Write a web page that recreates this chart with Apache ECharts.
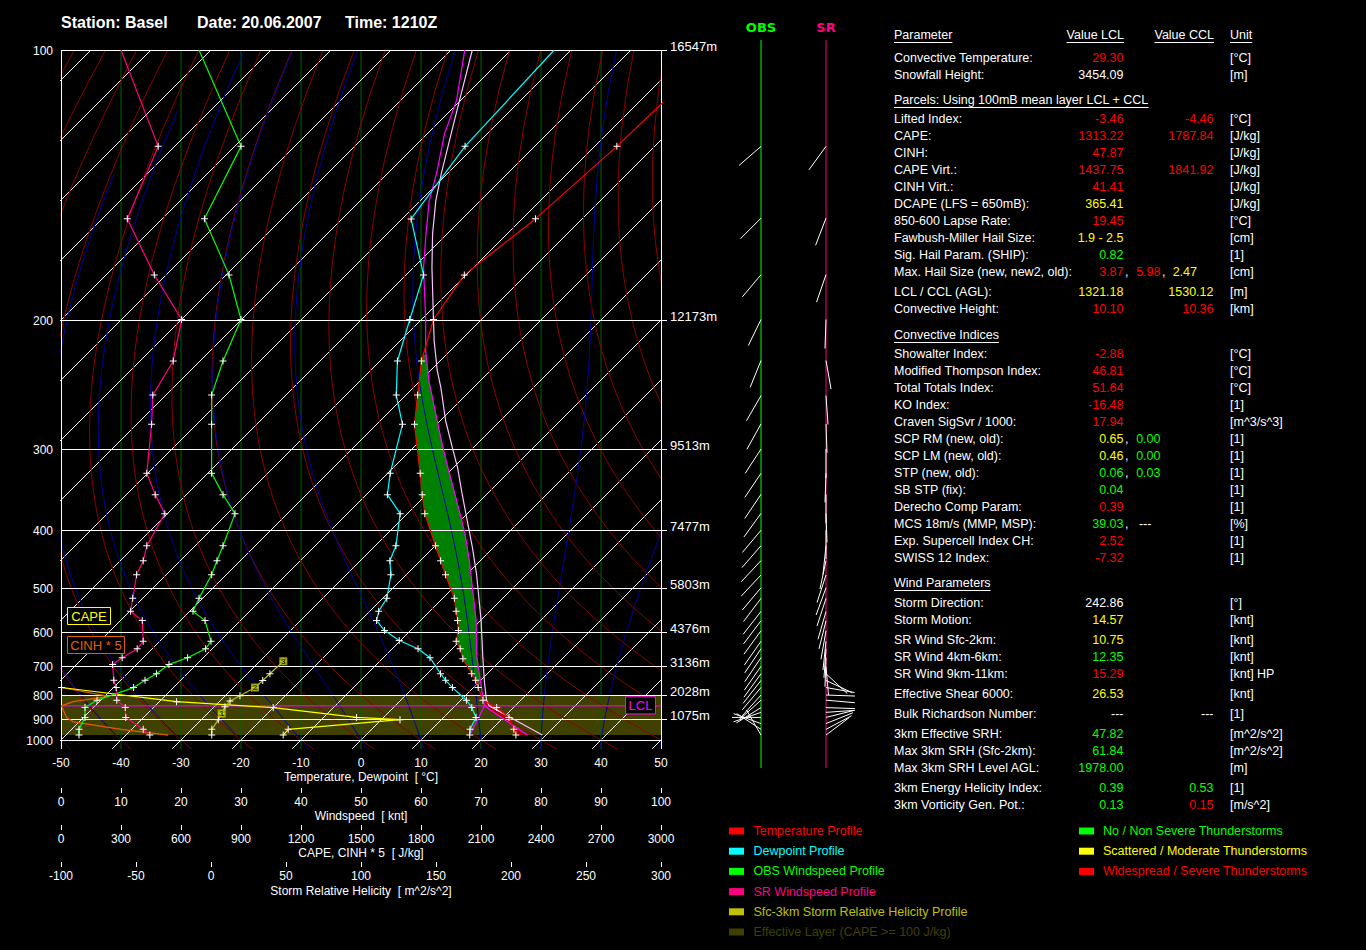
<!DOCTYPE html>
<html><head><meta charset="utf-8">
<script src="https://cdn.jsdelivr.net/npm/echarts@6/dist/echarts.min.js"></script>
<style>html,body{margin:0;padding:0;background:#000;}#c{width:1366px;height:950px;}</style>
</head><body><div id="c"></div>
<script>
// ---------------- data ----------------
const P_LEVELS = [100,200,300,400,500,600,700,800,900,1000];
const HEIGHT_LABELS = ['16547m','12173m','9513m','7477m','5803m','4376m','3136m','2028m','1075m'];

const tempP = [100,125.7,151.2,176.1,200,226.3,251.6,276.4,325.8,351.3,376.2,424.1,449.3,474.7,522,550.7,572.7,597.6,625.8,647,676.3,723.9,746.6,772.4,820.3,849.6,892,947.1,975];
const tempT = [-55.5,-56.3,-57.8,-60.3,-58,-53.1,-48.05,-43.7,-34.6,-30.7,-27.1,-19.95,-16.6,-13.45,-8.05,-5.6,-3.8,-2.0,-0.6,1.33,3.43,7.4,9.17,10.8,13.7,17.2,20.9,23.7,25.0];

const dewP = [100,125.7,151.3,176.1,200,226.3,251.6,276.4,325.8,351.3,376.2,424.1,449.3,474.7,522,550.7,572.7,597.6,624,647,673.4,723.9,746.6,772.4,820.3,849.6,892,947.1,975];
const dewT = [-82.8,-81.6,-78.5,-67.1,-61.95,-57.1,-51.6,-45.7,-39.6,-36.5,-31.2,-26.55,-25.05,-22.55,-19.3,-18.5,-17.3,-14.3,-10.2,-5.7,-2.2,2.2,4.17,6.5,10.95,13.05,15.4,16.4,17.3];

const parcelP = [975,843,794.5,746.6,671.6,572.7,500,449.3,405.9,372.5,346.7,316,288.8,259.1,240.7,219.6,200,172.6,157.5,144.3,134.6,121.9,112.4,100];
const parcelT = [26.9,14.9,12.5,9.95,5.5,-0.7,-6.8,-11.8,-16.95,-21.8,-26,-31.6,-37.1,-43.8,-48.5,-54.05,-59.3,-68.3,-73.5,-78.5,-81.8,-87.1,-90.7,-97.7];

const vParcelP = [975,843,820.3,758.1,671.6,572.7,473.3,427,386.4,350.8,319.6,298.6,273.4,245.8,233.3,213.1,200,172.6,157.5,144.3,134.6,121.9,112.4,100];
const vParcelT = [29.4,15.7,14.3,11.2,6.5,0.12,-8.4,-13.5,-18.8,-24.1,-29.3,-33.5,-39.05,-45.4,-48.8,-54.3,-58.0,-66.9,-72.4,-77.4,-81.0,-86.0,-90.2,-96.45];

const mixP = [975,843];
const mixT = [17.3,14.9];

const obsSpdP = [100,125.7,151.2,176.1,200,226.3,251.6,276.4,325.8,351.3,376.2,424.1,449.3,474.7,522,550.7,572.7,625.8,647,673.4,693.9,723.9,746.6,772.4,820.3,849.6,892,947.1,975];
const obsSpd  = [23,30,23.9,28,30,27,25.1,25.1,25.1,27,29,27,26,25.1,23,22,24,25,24.1,21.1,18,15.9,14,12.1,6,4,4,3,3];

const srSpdP = [100,125.7,151.2,176.1,200,226.3,251.6,276.4,325.8,351.3,376.2,424.1,449.3,474.7,522,550.7,572.7,625.8,647,673.4,693.9,746.6,772.4,820.3,849.6,892,947.1,975];
const srSpd  = [10,16.2,11.05,15.55,20.1,18.7,15.3,15.1,14.3,15.7,17.3,14.3,13.7,12.6,11.95,11.6,13.55,13.7,12.7,10.2,8.6,8.8,9.2,9.3,10.7,10.8,13.7,14.8];

const capeP = [975,947,902,892,850,826,772];
const capeV = [1111,1136,1695,1478,1061,578,3];

const cinP = [975,947,912,892,843,826,805,772];
const cinV = [536,302,61,28,3,61,240,0];

const srhP = [975,947,902,875,847,823,803,772,747,724,684];
const srhV = [0.5,0.5,4.9,7.1,9.3,12.7,19.3,29.3,34.5,39.3,48.2];
const srhBoxP = [875,772,684];
const srhBoxV = [7.1,29.3,48.2];
const srhBoxLabels = ['1','2','3'];

const windP  = [125.7,151,176,200,226,252,276,300,326,351,376,400,424,449,475,500,522,551,573,598,626,647,673,700,724,747,772,800,820,850,870,892,920,947,975];
const obsDir = [229,225,220,206,202,210,209,213,214,214,216,220,221,223,223,220,217,218,217,216,215,214,214,215,216,218,220,222,228,238,251,270,290,303,330];
const srDir  = [216,201,199,182,170,176,178,180,182,180,178,180,186,192,198,200,198,196,194,190,186,184,182,175,133,115,100,92,95,92,86,76,68,62,53];

const lclP = 843;
const effLayer = [975, 800];
const capeLayer = [222, 760];
const cinLayer = [843, 975];

// ---------------- scale helpers ----------------
const K = 0.355;
function yOf(p){ return 690*(Math.pow(p/1000,-K)-1)/(Math.pow(0.1,-K)-1); }
function sk(T,p){ const y=yOf(p); return [T+y/6, y]; }
function flat(v,p){ return [v, yOf(p)]; }
function mk(P,V,fn){ return P.map((p,i)=>{ const v=fn(V[i],p); return p<=100?{value:v,symbol:'none'}:v; }); }
function interpT(P,T,p){
  for(let i=0;i<P.length-1;i++){
    const a=P[i], b=P[i+1];
    if((p-a)*(p-b)<=0){ const f=(Math.log(p)-Math.log(a))/(Math.log(b)-Math.log(a)||1); return T[i]+f*(T[i+1]-T[i]); }
  }
  return T[0];
}

const FONT = "'Liberation Sans', Arial, sans-serif";
const PLUS = 'path://M0,3L7,3L7,4L0,4Z M3,0L4,0L4,7L3,7Z';

// ---------------- background thermodynamic lines ----------------
const series = [];
const samplesP = []; for(let p=1050;p>=100;p-=10) samplesP.push(p);

function bgLine(data,color,z){ series.push({type:'line',data,symbol:'none',silent:true,clip:true,lineStyle:{color,width:1},z,animation:false}); }

for(let T=-170;T<=50;T+=10) bgLine([sk(T,1047),sk(T,100)],'#ffffff',4);
for(let th=-70;th<=140;th+=10){
  bgLine(samplesP.map(p=>sk((th+273.15)*Math.pow(p/1000,0.2857)-273.15,p)),'#8b0000',4);
}
function dTdp(p,T){
  const Tc=T-273.15; const es=6.112*Math.exp(17.67*Tc/(Tc+243.5)); const rs=0.622*es/(p-es);
  return (287.04*T+2.501e6*rs)/(p*(1005.7+2.501e6*2.501e6*rs*0.622/(287.04*T*T)));
}
function moist(T0){
  const up=[]; let T=T0+273.15, p=1000; up.push([p,T]);
  while(p>100){ const dp=-5; const k1=dTdp(p,T); const k2=dTdp(p+dp/2,T+k1*dp/2); T+=k2*dp; p+=dp; up.push([p,T]); }
  const dn=[]; T=T0+273.15; p=1000;
  while(p<1050){ const dp=5; const k1=dTdp(p,T); const k2=dTdp(p+dp/2,T+k1*dp/2); T+=k2*dp; p+=dp; dn.unshift([p,T]); }
  return dn.concat(up).filter(a=>a[1]-273.15>-136).map(a=>sk(a[1]-273.15,a[0]));
}

// ---------------- series ----------------
series.push({type:'custom',z:1,silent:true,data:[[0,yOf(effLayer[0]),yOf(effLayer[1])]],renderItem:(params,api)=>{
  const cs=params.coordSys; const y1=api.coord([0,api.value(1)])[1], y2=api.coord([0,api.value(2)])[1];
  return {type:'rect',shape:{x:cs.x,y:Math.min(y1,y2),width:cs.width,height:Math.abs(y2-y1)},style:{fill:'#404000'}};
}});
series.push({type:'custom',z:2,silent:true,data:[-40,-30,-20,-10,0,10,20,30,40].map(v=>[v,0]),renderItem:(params,api)=>{
  const cs=params.coordSys; const x=api.coord([api.value(0),0])[0];
  return {type:'line',shape:{x1:x,y1:cs.y,x2:x,y2:cs.y+cs.height},style:{stroke:'#006400',lineWidth:1}};
}});
function fillPoly(envP,envT,parP,parT,pTop,pBot){
  const pts=[];
  pts.push(sk(interpT(parP,parT,pBot),pBot));
  parP.forEach((p,i)=>{ if(p<pBot&&p>pTop) pts.push(sk(parT[i],p)); });
  pts.push(sk(interpT(parP,parT,pTop),pTop));
  pts.push(sk(interpT(envP,envT,pTop),pTop));
  envP.forEach((p,i)=>{ if(p>pTop&&p<pBot) pts.push(sk(envT[i],p)); });
  pts.push(sk(interpT(envP,envT,pBot),pBot));
  return pts;
}
const capePoly = fillPoly(tempP,tempT,parcelP,parcelT,capeLayer[0],capeLayer[1]);
const cinPoly = fillPoly(tempP,tempT,parcelP,parcelT,cinLayer[0],cinLayer[1]);
[[capePoly,'#008000'],[cinPoly,'#a00000']].forEach(([poly,col])=>{
  series.push({type:'custom',z:5,silent:true,data:[[0,0]],renderItem:(params,api)=>({type:'polygon',shape:{points:poly.map(q=>api.coord(q))},style:{fill:col}})});
});
for(let tw=-50;tw<=60;tw+=10) bgLine(moist(tw),'#0000a0',6);

series.push({type:'custom',z:7,silent:true,clip:false,data:P_LEVELS.map(p=>[0,yOf(p)]),renderItem:(params,api)=>{
  const cs=params.coordSys; const i=params.dataIndex; const y=Math.round(api.coord([0,api.value(1)])[1])+0.5;
  const hasH=i<HEIGHT_LABELS.length;
  const ch=[{type:'line',shape:{x1:cs.x,y1:y,x2:cs.x+cs.width+(hasH?6:0),y2:y},style:{stroke:'#fff',lineWidth:1}},
    {type:'text',x:cs.x-8,y:y,style:{text:String(P_LEVELS[i]),fill:'#fff',font:'12px '+FONT,align:'right',verticalAlign:'middle'}}];
  if(hasH) ch.push({type:'text',x:cs.x+cs.width+9,y:y-4,style:{text:HEIGHT_LABELS[i],fill:'#fff',font:'13px '+FONT,align:'left',verticalAlign:'middle'}});
  if(i===0){
    const xl=Math.round(cs.x)+0.5, xr=Math.round(cs.x+cs.width)+0.5, yb=cs.y+cs.height;
    ch.push({type:'line',shape:{x1:xl,y1:cs.y,x2:xl,y2:yb},style:{stroke:'#fff',lineWidth:1}});
    ch.push({type:'line',shape:{x1:xr,y1:cs.y,x2:xr,y2:yb},style:{stroke:'#fff',lineWidth:1}});
  }
  return {type:'group',children:ch};
}});
series.push({type:'custom',z:8,silent:true,clip:false,data:[[0,yOf(lclP)]],renderItem:(params,api)=>{
  const cs=params.coordSys; const y=api.coord([0,api.value(1)])[1];
  const bx=cs.x+cs.width-35.5;
  return {type:'group',children:[
    {type:'line',shape:{x1:cs.x,y1:y,x2:cs.x+cs.width,y2:y},style:{stroke:'#ff00ff',lineWidth:1}},
    {type:'rect',shape:{x:bx,y:y-9,width:30,height:17},style:{fill:'#000',stroke:'#ff00ff',lineWidth:1}},
    {type:'text',x:bx+15,y:y,style:{text:'LCL',fill:'#ff00ff',font:'13px '+FONT,align:'center',verticalAlign:'middle'}}
  ]};
}});

function prof(data,color,opt){
  return Object.assign({type:'line',data,symbol:'none',silent:true,clip:true,animation:false,lineStyle:{color,width:1.2},itemStyle:{color:'#fff'},z:12},opt||{});
}
const withPlus = {symbol:PLUS,symbolSize:7,showAllSymbol:true};
series.push(prof(mk(cinP,cinV,flat),'#e06000',{xAxisIndex:2,z:10}));
series.push(prof(mk(capeP,capeV,flat),'#ffff00',Object.assign({xAxisIndex:2,z:10},withPlus)));
series.push(prof(mk(srhP,srhV,flat),'#c0c000',Object.assign({xAxisIndex:3,z:10},withPlus)));
series.push({type:'scatter',xAxisIndex:3,z:13,silent:true,symbol:'rect',symbolSize:8,itemStyle:{color:'#c0c000'},
  data:srhBoxP.map((p,i)=>[srhBoxV[i],yOf(p)]),
  label:{show:true,position:'inside',formatter:(pr)=>srhBoxLabels[pr.dataIndex],color:'#000',fontSize:8,fontWeight:'bold',fontFamily:FONT}});
series.push(prof(mk(obsSpdP,obsSpd,flat),'#00ff00',Object.assign({xAxisIndex:1},withPlus)));
series.push(prof(mk(srSpdP,srSpd,flat),'#ff0080',Object.assign({xAxisIndex:1},withPlus)));
series.push(prof(mk(vParcelP,vParcelT,sk),'#ffc0ff',{z:11}));
series.push(prof(mk(parcelP,parcelT,sk),'#ff00ff',{z:11}));
series.push(prof(mk(mixP,mixT,sk),'#ff00ff',{z:11}));
series.push(prof(mk(dewP,dewT,sk),'#00ffff',withPlus));
series.push(prof(mk(tempP,tempT,sk),'#ff0000',withPlus));

const OBS_X=61, SR_X=126, STICK=29;
series.push({type:'line',xAxisIndex:4,yAxisIndex:1,data:[[OBS_X,-28],[OBS_X,700]],symbol:'none',silent:true,lineStyle:{color:'#00ff00',width:1},z:3});
series.push({type:'line',xAxisIndex:4,yAxisIndex:1,data:[[SR_X,-28],[SR_X,700]],symbol:'none',silent:true,lineStyle:{color:'#ff0080',width:1},z:3});
[[OBS_X,obsDir],[SR_X,srDir]].forEach(([cx,dirs])=>{
  series.push({type:'custom',xAxisIndex:4,yAxisIndex:1,z:4,silent:true,clip:false,
    data:windP.map((p,i)=>[cx,yOf(p),dirs[i]]),
    renderItem:(params,api)=>{
      const pt=api.coord([api.value(0),api.value(1)]); const d=api.value(2)*Math.PI/180;
      return {type:'line',shape:{x1:pt[0],y1:pt[1],x2:pt[0]+STICK*Math.sin(d),y2:pt[1]-STICK*Math.cos(d)},style:{stroke:'#fff',lineWidth:1}};
    }});
});

// ---------------- graphic texts ----------------
const g=[];
const TF='12.5px '+FONT;
function txt(x,y,text,color,align,font,z){ g.push({type:'text',x,y,z:z||0,silent:true,style:{text,fill:color,font:font||TF,align:align||'left',verticalAlign:'middle'}}); }
function box(x,y,w,h,fill,stroke,z){ g.push({type:'rect',z:z||0,silent:true,shape:{x,y,width:w,height:h},style:{fill,stroke,lineWidth:1}}); }
const mctx=document.createElement('canvas').getContext('2d');
function underline(x,y,text,align){ mctx.font=TF; const w=mctx.measureText(text).width; const x1=align==='right'?x-w:x; g.push({type:'line',silent:true,shape:{x1,y1:y+7.5,x2:x1+w,y2:y+7.5},style:{stroke:'#fff',lineWidth:1}}); }

txt(61,22,'Station: Basel','#fff','left','bold 16px '+FONT);
txt(197,22,'Date: 20.06.2007','#fff','left','bold 16px '+FONT);
txt(345,22,'Time: 1210Z','#fff','left','bold 16px '+FONT);
txt(761,27,'OBS','#00ff00','center',"bold 13px 'DejaVu Sans', sans-serif");
txt(826,27,'SR','#ff0080','center',"bold 13px 'DejaVu Sans', sans-serif");

box(67.5,607.5,43,17,'#000','#ffff00',100); txt(89,616.5,'CAPE','#ffff00','center','13px '+FONT,101);
box(67.5,636.5,57,17,'#000','#e06000',100); txt(96,645.5,'CINH * 5','#e06000','center','13px '+FONT,101);

const R='#ff0000',Yc='#ffff00',G='#00ff00',W='#ffffff';
const headers=[[35,894,'left','Parameter'],[35,1124,'right','Value LCL'],[35,1214,'right','Value CCL'],[35,1230,'left','Unit'],
  [100,894,'left','Parcels: Using 100mB mean layer LCL + CCL'],[335,894,'left','Convective Indices'],[583,894,'left','Wind Parameters']];
headers.forEach(h=>{ txt(h[1],h[0],h[3],W,h[2]); underline(h[1],h[0],h[3],h[2]); });
const rows=[
 [58,'Convective Temperature:','29.30',R,'','','[°C]'],
 [75,'Snowfall Height:','3454.09',W,'','','[m]'],
 [119,'Lifted Index:','-3.46',R,'-4.46',R,'[°C]'],
 [136,'CAPE:','1313.22',R,'1787.84',R,'[J/kg]'],
 [153,'CINH:','47.87',R,'','','[J/kg]'],
 [170,'CAPE Virt.:','1437.75',R,'1841.92',R,'[J/kg]'],
 [187,'CINH Virt.:','41.41',R,'','','[J/kg]'],
 [204,'DCAPE (LFS = 650mB):','365.41',Yc,'','','[J/kg]'],
 [221,'850-600 Lapse Rate:','19.45',R,'','','[°C]'],
 [238,'Fawbush-Miller Hail Size:','1.9 - 2.5',Yc,'','','[cm]'],
 [255,'Sig. Hail Param. (SHIP):','0.82',G,'','','[1]'],
 [272,'Max. Hail Size (new, new2, old):','3.87',R,'','','[cm]'],
 [292,'LCL / CCL (AGL):','1321.18',Yc,'1530.12',Yc,'[m]'],
 [309,'Convective Height:','10.10',R,'10.36',R,'[km]'],
 [354,'Showalter Index:','-2.88',R,'','','[°C]'],
 [371,'Modified Thompson Index:','46.81',R,'','','[°C]'],
 [388,'Total Totals Index:','51.64',R,'','','[°C]'],
 [405,'KO Index:','-16.48',R,'','','[1]'],
 [422,'Craven SigSvr / 1000:','17.94',R,'','','[m^3/s^3]'],
 [439,'SCP RM (new, old):','0.65',Yc,'','','[1]'],
 [456,'SCP LM (new, old):','0.46',Yc,'','','[1]'],
 [473,'STP (new, old):','0.06',G,'','','[1]'],
 [490,'SB STP (fix):','0.04',G,'','','[1]'],
 [507,'Derecho Comp Param:','0.39',R,'','','[1]'],
 [524,'MCS 18m/s (MMP, MSP):','39.03',G,'','','[%]'],
 [541,'Exp. Supercell Index CH:','2.52',R,'','','[1]'],
 [558,'SWISS 12 Index:','-7.32',R,'','','[1]'],
 [603,'Storm Direction:','242.86',W,'','','[°]'],
 [620,'Storm Motion:','14.57',Yc,'','','[knt]'],
 [640,'SR Wind Sfc-2km:','10.75',Yc,'','','[knt]'],
 [657,'SR Wind 4km-6km:','12.35',G,'','','[knt]'],
 [674,'SR Wind 9km-11km:','15.29',R,'','','[knt] HP'],
 [694,'Effective Shear 6000:','26.53',Yc,'','','[knt]'],
 [714,'Bulk Richardson Number:','---',W,'---',W,'[1]'],
 [734,'3km Effective SRH:','47.82',G,'','','[m^2/s^2]'],
 [751,'Max 3km SRH (Sfc-2km):','61.84',G,'','','[m^2/s^2]'],
 [768,'Max 3km SRH Level AGL:','1978.00',G,'','','[m]'],
 [788,'3km Energy Helicity Index:','0.39',G,'0.53',G,'[1]'],
 [805,'3km Vorticity Gen. Pot.:','0.13',G,'0.15',R,'[m/s^2]']
];
rows.forEach(r=>{
  txt(894,r[0],r[1],W,'left');
  if(r[2]) txt(1123.5,r[0],r[2],r[3],'right');
  if(r[4]) txt(1213.5,r[0],r[4],r[5],'right');
  txt(1230,r[0],r[6],W,'left');
});
const extras=[
 [272,1125,'left',',',W],[272,1160.5,'right','5.98',R],[272,1162,'left',',',W],[272,1197,'right','2.47',Yc],
 [439,1125,'left',',',W],[439,1160.5,'right','0.00',G],
 [456,1125,'left',',',W],[456,1160.5,'right','0.00',G],
 [473,1125,'left',',',W],[473,1160.5,'right','0.03',G],
 [524,1125,'left',',   ---',W]
];
extras.forEach(e=>txt(e[1],e[0],e[3],e[4],e[2]));

const legLeft=[['Temperature Profile','#ff0000'],['Dewpoint Profile','#00ffff'],['OBS Windspeed Profile','#00ff00'],['SR Windspeed Profile','#ff0080'],['Sfc-3km Storm Relative Helicity Profile','#c0c000'],['Effective Layer (CAPE >= 100 J/kg)','#404000']];
const legRight=[['No / Non Severe Thunderstorms','#00ff00'],['Scattered / Moderate Thunderstorms','#ffff00'],['Widespread / Severe Thunderstorms','#ff0000']];
legLeft.forEach((l,i)=>{ const y=831+i*20.2; box(729,y-3.5,15,7,l[1],null); txt(753.5,y,l[0],l[1],'left'); });
legRight.forEach((l,i)=>{ const y=831+i*20.2; box(1079,y-3.5,15,7,l[1],null); txt(1103,y,l[0],l[1],'left'); });

// ---------------- axes ----------------
const axText={color:'#fff',fontSize:12,fontFamily:FONT};
function botAxis(min,max,interval,offset,name,gap,extra){
  return Object.assign({gridIndex:0,type:'value',min,max,interval,position:'bottom',offset,
    axisLine:{show:false},axisTick:{show:true,length:5,lineStyle:{color:'#fff'}},
    axisLabel:Object.assign({margin:8,showMinLabel:true,showMaxLabel:true,formatter:(v)=>String(v)},axText),
    splitLine:{show:false},name,nameLocation:'middle',nameGap:gap,nameMoveOverlap:false,nameTextStyle:axText},extra||{});
}
const option={
  backgroundColor:'#000',animation:false,
  grid:[{left:61,top:50,width:600,height:699,containLabel:false,outerBoundsMode:'none'},
        {left:700,top:40,width:180,height:728,containLabel:false,outerBoundsMode:'none'}],
  xAxis:[
    botAxis(-50,50,10,0,'Temperature, Dewpoint  [ °C]',22,{axisLine:{show:true,lineStyle:{color:'#fff'}},axisTick:{show:false}}),
    botAxis(0,100,10,39,'Windspeed  [ knt]',22),
    botAxis(0,3000,300,76,'CAPE, CINH * 5  [ J/kg]',22),
    botAxis(-100,300,50,113,'Storm Relative Helicity  [ m^2/s^2]',23),
    {gridIndex:1,type:'value',min:0,max:180,show:false}
  ],
  yAxis:[{gridIndex:0,type:'value',min:-9,max:690,show:false},{gridIndex:1,type:'value',min:-28,max:700,show:false}],
  series,
  graphic:{elements:g}
};
const chart=echarts.init(document.getElementById('c'),null,{renderer:'svg',width:1366,height:950});
chart.setOption(option);
</script>
</body></html>
